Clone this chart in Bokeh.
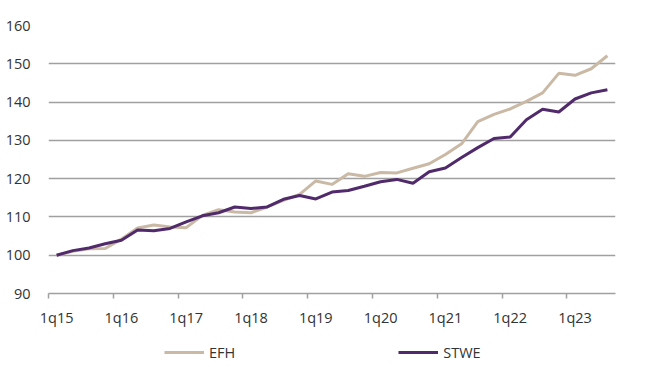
from bokeh.plotting import figure
from bokeh.layouts import column
from bokeh.models import ColumnDataSource, Range1d, FixedTicker, Legend, LegendItem
from bokeh.embed import file_html
from bokeh.resources import INLINE

quarters = [f"{q}q{y}" for y in range(15, 24) for q in range(1, 5)][:35]
efh = [100, 101.0, 101.7, 101.75, 104.2, 107.1, 107.9, 107.4, 107.2, 110.4,
       111.9, 111.3, 111.1, 112.6, 114.3, 115.9, 119.4, 118.5, 121.3, 120.6,
       121.6, 121.5, 122.7, 123.9, 126.3, 129.1, 134.9, 136.8, 138.2, 140.2,
       142.4, 147.5, 147.0, 148.7, 152.1]
stwe = [100, 101.2, 101.9, 103.0, 103.9, 106.6, 106.4, 107.0, 108.7, 110.3,
        111.1, 112.6, 112.2, 112.6, 114.6, 115.6, 114.7, 116.5, 116.9, 118.0,
        119.2, 119.8, 118.8, 121.8, 122.8, 125.5, 128.1, 130.5, 130.9, 135.4,
        138.1, 137.4, 140.8, 142.4, 143.2]
y_ticks = [90, 100, 110, 120, 130, 140, 150, 160]

idx = list(range(len(quarters)))
src = ColumnDataSource(dict(x=idx, efh=efh, stwe=stwe, q=quarters))

FONT = "Open Sans"
TXT = "#333333"
C_EFH = "#C9B9A5"
C_STWE = "#502A6B"

p = figure(width=653, height=333, output_backend="svg", toolbar_location=None,
           x_range=Range1d(-0.5, len(quarters) - 0.5), y_range=Range1d(90, 160),
           min_border_left=48, min_border_right=38, min_border_top=25,
           min_border_bottom=40)
p.outline_line_color = None
p.background_fill_color = "white"

p.line("x", "efh", source=src, line_color=C_EFH, line_width=3)
p.line("x", "stwe", source=src, line_color=C_STWE, line_width=3)

# x axis
label_ticks = [i for i in idx if quarters[i].startswith("1q")]
p.xaxis.ticker = FixedTicker(ticks=label_ticks, minor_ticks=[i - 0.5 for i in label_ticks])
p.xaxis.major_label_overrides = {i: quarters[i] for i in label_ticks}
p.xaxis.major_tick_line_color = None
p.xaxis.major_tick_out = 5
p.xaxis.major_tick_in = 0
p.xaxis.minor_tick_line_color = "#A0A0A0"
p.xaxis.minor_tick_line_width = 1.5
p.xaxis.minor_tick_out = 5
p.xaxis.minor_tick_in = 0
p.xaxis.axis_line_color = "#A0A0A0"
p.xaxis.axis_line_width = 1.5
p.xaxis.major_label_standoff = 9
p.xaxis.major_label_text_font = FONT
p.xaxis.major_label_text_font_size = "14.5px"
p.xaxis.major_label_text_color = TXT
p.xgrid.grid_line_color = None

# y axis
p.yaxis.ticker = FixedTicker(ticks=y_ticks)
p.yaxis.axis_line_color = None
p.yaxis.major_tick_line_color = None
p.yaxis.minor_tick_line_color = None
p.yaxis.major_label_standoff = 12
p.yaxis.major_label_text_font = FONT
p.yaxis.major_label_text_font_size = "14.5px"
p.yaxis.major_label_text_color = TXT
p.ygrid.grid_line_color = "#A0A0A0"
p.ygrid.grid_line_width = 1.5

# legend strip (its lines lie outside its view; only the legend shows)
lp = figure(width=653, height=34, output_backend="svg", toolbar_location=None,
            x_range=Range1d(-0.5, len(quarters) - 0.5), y_range=Range1d(0, 1),
            x_axis_type=None, y_axis_type=None,
            min_border_left=0, min_border_right=0, min_border_top=0,
            min_border_bottom=0)
lp.outline_line_color = None
lp.xgrid.grid_line_color = None
lp.ygrid.grid_line_color = None
l1 = lp.line("x", "efh", source=src, line_color=C_EFH, line_width=3)
l2 = lp.line("x", "stwe", source=src, line_color=C_STWE, line_width=3)

legend = Legend(items=[LegendItem(label="EFH", renderers=[l1]),
                       LegendItem(label="STWE", renderers=[l2])],
                orientation="horizontal", location=(116, 5),
                spacing=163, glyph_width=40, label_standoff=5,
                padding=2, margin=0, border_line_color=None,
                background_fill_alpha=0,
                label_text_font=FONT, label_text_font_size="14.5px",
                label_text_color=TXT)
lp.add_layout(legend, "center")

open("out.html", "w").write(file_html(column(p, lp, spacing=0), INLINE))
